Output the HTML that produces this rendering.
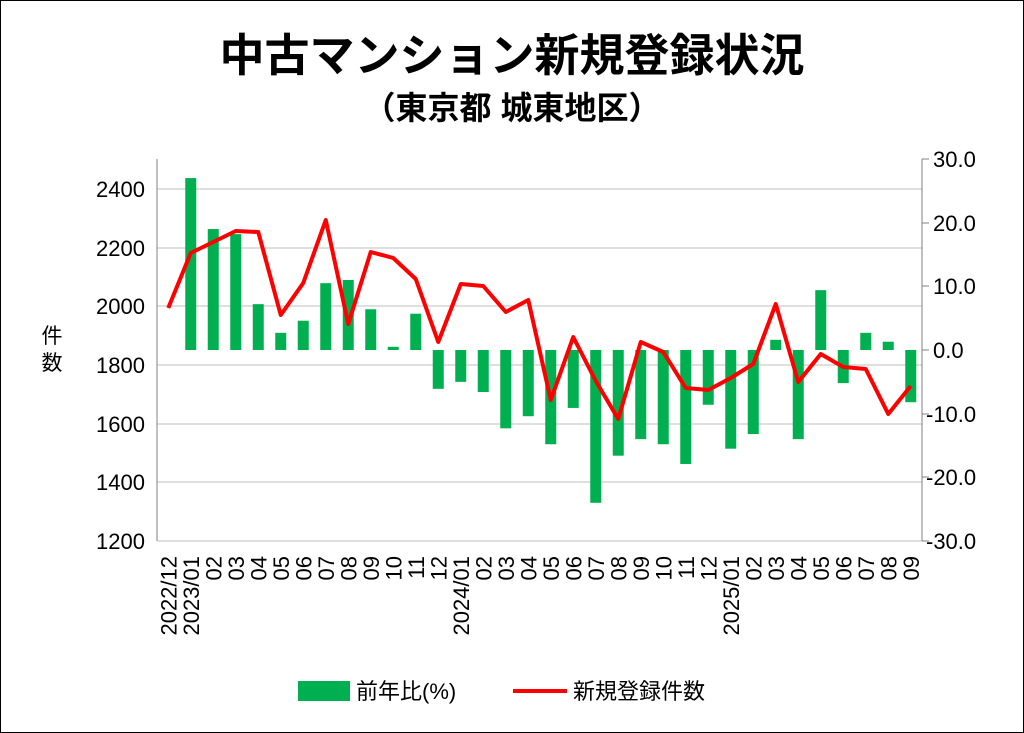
<!DOCTYPE html>
<html><head><meta charset="utf-8"><style>
html,body{margin:0;padding:0;background:#fff}
svg{display:block;font-family:"Liberation Sans","Noto Sans CJK JP",sans-serif}
</style></head><body>
<svg width="1024" height="733" viewBox="0 0 1024 733" xmlns="http://www.w3.org/2000/svg">
<rect x="0.5" y="0.5" width="1023" height="732" fill="#fff" stroke="#000" stroke-width="1"/>
<text x="512" y="71" text-anchor="middle" font-size="45" font-weight="bold" fill="#000">中古マンション新規登録状況</text>
<text x="512" y="119" text-anchor="middle" font-size="32" font-weight="bold" fill="#000">（東京都 城東地区）</text>
<g stroke="#bfbfbf" stroke-width="1">
<line x1="157" y1="189" x2="922" y2="189"/><line x1="157" y1="248" x2="922" y2="248"/>
<line x1="157" y1="306" x2="922" y2="306"/><line x1="157" y1="365" x2="922" y2="365"/>
<line x1="157" y1="424" x2="922" y2="424"/><line x1="157" y1="482" x2="922" y2="482"/>
<line x1="157" y1="541" x2="922" y2="541"/>
</g>
<g stroke="#808080" stroke-width="1">
<line x1="157" y1="159" x2="157" y2="541"/><line x1="922" y1="159" x2="922" y2="541"/>
<line x1="922" y1="159" x2="929" y2="159"/><line x1="922" y1="223" x2="929" y2="223"/>
<line x1="922" y1="286" x2="929" y2="286"/><line x1="922" y1="350" x2="929" y2="350"/>
<line x1="922" y1="414" x2="929" y2="414"/><line x1="922" y1="477" x2="929" y2="477"/>
<line x1="922" y1="541" x2="929" y2="541"/>
</g>
<g font-size="22" fill="#000" text-anchor="end">
<text x="145" y="197">2400</text><text x="145" y="256">2200</text><text x="145" y="314">2000</text>
<text x="145" y="373">1800</text><text x="145" y="432">1600</text><text x="145" y="490">1400</text>
<text x="145" y="549">1200</text>
</g>
<g font-size="22" fill="#000" text-anchor="start">
<text x="933" y="167">30.0</text><text x="933" y="231">20.0</text><text x="933" y="294">10.0</text>
<text x="933" y="358">0.0</text><text x="926" y="422">-10.0</text><text x="926" y="485">-20.0</text>
<text x="926" y="549">-30.0</text>
</g>
<text x="52" y="343" text-anchor="middle" font-size="21">件</text>
<text x="52" y="370" text-anchor="middle" font-size="21">数</text>
<g fill="#00b050" id="bars"></g>
<polyline id="ln" fill="none" stroke="#ff0000" stroke-width="4" stroke-linejoin="round" points=""/>
<g id="xl" font-size="22" fill="#000"></g>
<rect x="298" y="681" width="52" height="20" fill="#00b050"/>
<text x="356" y="699" font-size="22">前年比(%)</text>
<line x1="513" y1="691" x2="567" y2="691" stroke="#ff0000" stroke-width="4"/>
<text x="573" y="699" font-size="22">新規登録件数</text>
<script>
var pct=[0,27.0,19.0,18.2,7.2,2.7,4.6,10.5,11.0,6.4,0.5,5.7,-6.1,-5.0,-6.6,-12.3,-10.4,-14.8,-9.1,-24.0,-16.6,-14.0,-14.8,-17.9,-8.6,-15.5,-13.2,1.6,-14.0,9.4,-5.2,2.7,1.3,-8.2];
var ly=[308,253,242,231,232,315,283,220,324,252,258,279,342,284,286,312,300,400,337,381,419,342,352,388,390,378,364,304,382,354,367,369,414,386];
var lab=["2022/12","2023/01","02","03","04","05","06","07","08","09","10","11","12","2024/01","02","03","04","05","06","07","08","09","10","11","12","2025/01","02","03","04","05","06","07","08","09"];
var ns="http://www.w3.org/2000/svg",b=document.getElementById("bars"),xl=document.getElementById("xl"),pts=[];
for(var i=0;i<34;i++){var cx=157+22.5*(i+0.5);
if(pct[i]!=0){var h=pct[i]*6.367,r=document.createElementNS(ns,"rect");r.setAttribute("x",cx-5.5);r.setAttribute("width",11);r.setAttribute("y",h>0?350-h:350);r.setAttribute("height",Math.abs(h));b.appendChild(r);}
pts.push(cx+","+ly[i]);
var t=document.createElementNS(ns,"text");t.setAttribute("transform","translate("+(cx+8)+",556) rotate(-90)");t.setAttribute("text-anchor","end");t.textContent=lab[i];xl.appendChild(t);}
document.getElementById("ln").setAttribute("points",pts.join(" "));
</script>
</svg>
</body></html>
